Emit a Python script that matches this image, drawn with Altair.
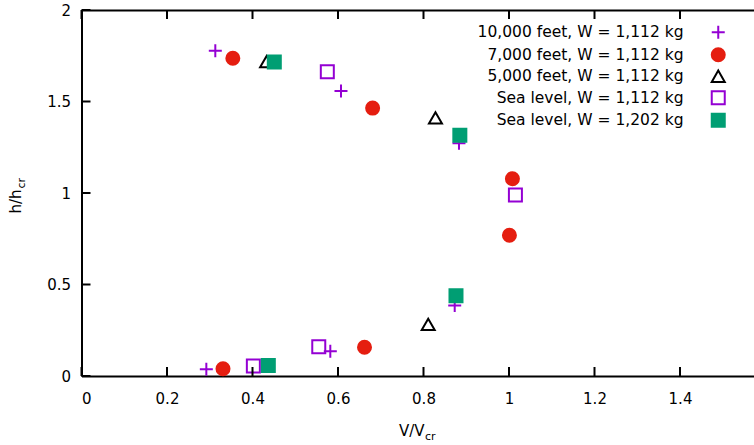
import altair as alt
import pandas as pd

# ---------------- data ----------------
series_names = [
    "10,000 feet, W = 1,112 kg",
    "7,000 feet, W = 1,112 kg",
    "5,000 feet, W = 1,112 kg",
    "Sea level, W = 1,112 kg",
    "Sea level, W = 1,202 kg",
]

v_10k = [0.313, 0.607, 0.883, 0.292, 0.582, 0.873]
h_10k = [1.778, 1.557, 1.272, 0.037, 0.135, 0.385]

v_7k = [0.354, 0.681, 1.008, 1.001, 0.662, 0.331]
h_7k = [1.736, 1.464, 1.078, 0.769, 0.157, 0.040]

v_5k = [0.433, 0.828, 0.811]
h_5k = [1.718, 1.411, 0.282]

v_sl1112 = [0.575, 1.015, 0.555, 0.402]
h_sl1112 = [1.663, 0.989, 0.160, 0.055]

v_sl1202 = [0.451, 0.885, 0.876, 0.437]
h_sl1202 = [1.716, 1.315, 0.439, 0.058]

x_ticks = [0, 0.2, 0.4, 0.6, 0.8, 1.0, 1.2, 1.4]
y_ticks = [0, 0.5, 1.0, 1.5, 2.0]

all_v = [v_10k, v_7k, v_5k, v_sl1112, v_sl1202]
all_h = [h_10k, h_7k, h_5k, h_sl1112, h_sl1202]

rows = []
for name, vs, hs in zip(series_names, all_v, all_h):
    for v, h in zip(vs, hs):
        rows.append({"series": name, "V": v, "h": h})
df = pd.DataFrame(rows)
xt_df = pd.DataFrame({"t": x_ticks})
yt_df = pd.DataFrame({"t": y_ticks})

# ---------------- style ----------------
PURPLE = "#9400d3"
RED = "#e51e10"
GREEN = "#009e73"
FONT = "DejaVu Sans"

W, H = 672, 366
PX_X = 427.5          # pixels per unit of V/Vcr
PX_Y = H / 2.0        # pixels per unit of h/hcr
TICK = 9              # tick length, pixels
xscale = alt.Scale(domain=[0, W / PX_X], nice=False, zero=False)
yscale = alt.Scale(domain=[0, 2], nice=False)

shapes = ["M-1,0H1M0,-1V1", "circle", "triangle-up", "square", "square"]
fills = ["transparent", RED, "transparent", "transparent", GREEN]
strokes = [PURPLE, RED, "black", PURPLE, GREEN]

legend = alt.Legend(
    orient="none", legendX=629, legendY=14.5, title=None,
    labelAlign="right", labelOffset={"expr": "-42.5"}, labelLimit=0,
    labelFont=FONT, labelFontSize=15.5, labelColor="black",
    symbolSize=169, symbolStrokeWidth=2, rowPadding=0.5, padding=0,
)

base = alt.Chart(df)

points = base.mark_point(opacity=1, strokeWidth=2, size=169).encode(
    x=alt.X("V:Q", scale=xscale, axis=alt.Axis(
        orient="bottom", values=x_ticks, format=".1~f", ticks=False, tickSize=0,
        domain=True, domainColor="black", domainWidth=2, grid=False,
        labelPadding=15, labelFont=FONT, labelFontSize=15, labelColor="black",
        title="V/V", titleFont=FONT, titleFontSize=15, titleFontWeight="normal",
        titleColor="black", titleX=317, titleY=59, titleAlign="left",
        titleBaseline="alphabetic")),
    y=alt.Y("h:Q", scale=yscale, axis=alt.Axis(
        orient="left", values=y_ticks, format=".1~f", ticks=False, tickSize=0,
        domain=True, domainColor="black", domainWidth=2, grid=False,
        labelPadding=11, labelFont=FONT, labelFontSize=15, labelColor="black",
        title="h/h", titleFont=FONT, titleFontSize=15, titleFontWeight="normal",
        titleColor="black", titleAngle=270, titleX=-61.5, titleY=203,
        titleAlign="left", titleBaseline="alphabetic")),
    shape=alt.Shape("series:N", sort=series_names,
                    scale=alt.Scale(domain=series_names, range=shapes), legend=legend),
    fill=alt.Fill("series:N", sort=series_names,
                  scale=alt.Scale(domain=series_names, range=fills), legend=legend),
    stroke=alt.Stroke("series:N", sort=series_names,
                      scale=alt.Scale(domain=series_names, range=strokes), legend=legend),
)

# subscripts of the axis titles
subs = base.mark_point(opacity=0).encode(
    x=alt.X("V:Q", scale=xscale, axis=alt.Axis(
        orient="bottom", offset=-9, values=x_ticks, ticks=False, tickSize=0,
        domain=False, labels=False, grid=False,
        title="cr", titleFont=FONT, titleFontSize=11, titleFontWeight="normal",
        titleColor="black", titleX=343, titleY=72, titleAlign="left",
        titleBaseline="alphabetic")),
    y=alt.Y("h:Q", scale=yscale, axis=alt.Axis(
        orient="left", offset=-9, values=y_ticks, ticks=False, tickSize=0,
        domain=False, labels=False, grid=False,
        title="cr", titleFont=FONT, titleFontSize=11, titleFontWeight="normal",
        titleColor="black", titleAngle=270, titleX=-66.5, titleY=178,
        titleAlign="left", titleBaseline="alphabetic")),
)

# top border line
top_line = base.mark_point(opacity=0).encode(
    x=alt.X("V:Q", scale=xscale, axis=alt.Axis(
        orient="top", values=x_ticks, ticks=False, tickSize=0, domain=True,
        domainColor="black", domainWidth=2, labels=False, grid=False, title=None)),
    y=alt.Y("h:Q", scale=yscale, axis=None),
)

# inward tick marks (bottom, top, left) as short rules
rule_style = dict(color="black", strokeWidth=2, opacity=1)
bottom_ticks = alt.Chart(xt_df).mark_rule(**rule_style).encode(
    x=alt.X("t:Q", scale=xscale, axis=None),
    y=alt.Y(datum=0, scale=yscale, axis=None),
    y2=alt.Y2(datum=TICK / PX_Y),
)
top_ticks = alt.Chart(xt_df).mark_rule(**rule_style).encode(
    x=alt.X("t:Q", scale=xscale, axis=None),
    y=alt.Y(datum=2, scale=yscale, axis=None),
    y2=alt.Y2(datum=2 - TICK / PX_Y),
)
left_ticks = alt.Chart(yt_df).mark_rule(**rule_style).encode(
    y=alt.Y("t:Q", scale=yscale, axis=None),
    x=alt.X(datum=0, scale=xscale, axis=None),
    x2=alt.X2(datum=TICK / PX_X),
)

chart = alt.layer(points, subs, top_line, bottom_ticks, top_ticks, left_ticks).resolve_axis(
    x="independent", y="independent"
).properties(
    width=W, height=H,
    padding={"left": 81.5, "top": 10, "right": 0, "bottom": 69},
    autosize=alt.AutoSizeParams(type="none"),
    background="white",
).configure_view(stroke=None)

chart.save("out.html", embed_options={"renderer": "svg", "actions": False})
